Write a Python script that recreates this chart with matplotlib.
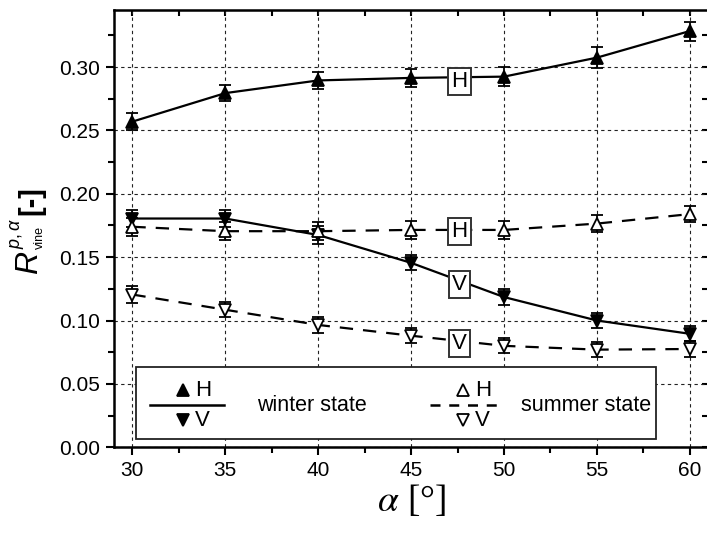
import numpy as np
import matplotlib
matplotlib.use("Agg")
import matplotlib.pyplot as plt
from matplotlib.lines import Line2D
from matplotlib.patches import Rectangle
from matplotlib.ticker import MultipleLocator, FormatStrFormatter

plt.rcParams['font.family'] = ['Liberation Sans', 'DejaVu Sans']
plt.rcParams['mathtext.fontset'] = 'custom'
plt.rcParams['mathtext.rm'] = 'Liberation Sans'
plt.rcParams['mathtext.it'] = 'Liberation Sans:italic'
plt.rcParams['mathtext.bf'] = 'Liberation Sans:bold'

# Data
alpha = [30, 35, 40, 45, 50, 55, 60]
winter_h = [0.257, 0.2795, 0.2895, 0.2915, 0.2925, 0.3075, 0.3285]
winter_h_err = [0.007, 0.0065, 0.007, 0.007, 0.0075, 0.0085, 0.0075]
winter_v = [0.1805, 0.1805, 0.1675, 0.1455, 0.1185, 0.100, 0.0895]
winter_v_err = [0.007, 0.007, 0.007, 0.006, 0.006, 0.006, 0.006]
summer_h = [0.174, 0.1705, 0.1705, 0.1715, 0.1715, 0.1765, 0.184]
summer_h_err = [0.007, 0.007, 0.007, 0.007, 0.007, 0.007, 0.006]
summer_v = [0.1205, 0.1085, 0.0965, 0.088, 0.080, 0.077, 0.0775]
summer_v_err = [0.0065, 0.006, 0.006, 0.006, 0.006, 0.006, 0.006]

# boxed curve labels: (x, y, text)
curve_labels = [(47.6, 0.2885, "H"), (47.6, 0.1700, "H"),
                (47.6, 0.1285, "V"), (47.6, 0.0818, "V")]

fig = plt.figure(figsize=(7.07, 5.33), dpi=100)
ax = fig.add_axes([0.161, 0.161, 0.841, 0.820])

dash = (0, (6, 4.5))
series = [
	(winter_h, winter_h_err, '^', 'black', '-'),
	(winter_v, winter_v_err, 'v', 'black', '-'),
	(summer_h, summer_h_err, '^', 'white', dash),
	(summer_v, summer_v_err, 'v', 'white', dash),
]
for vals, err, mk, fc, ls in series:
	ax.errorbar(alpha, vals, yerr=err, fmt=mk, color='black', mfc=fc, mec='black',
				ms=8.5, mew=1.3, ecolor='black', elinewidth=1.3, capsize=4.5, capthick=1.8,
				zorder=4)
	ax.plot(alpha, vals, color='black', linestyle=ls, lw=1.6, zorder=3)

for x, y, t in curve_labels:
	ax.text(x, y, t, fontsize=16, ha='center', va='center', zorder=6,
			bbox=dict(boxstyle='square,pad=0.14', fc='white', ec='#333333', lw=1.4))

ax.set_xlim(29, 61)
ax.set_ylim(0, 0.345)
ax.xaxis.set_major_locator(MultipleLocator(5))
ax.xaxis.set_minor_locator(MultipleLocator(2.5))
ax.yaxis.set_major_locator(MultipleLocator(0.05))
ax.yaxis.set_minor_locator(MultipleLocator(0.025))
ax.yaxis.set_major_formatter(FormatStrFormatter('%.2f'))

ax.grid(True, which='major', color='#222222', linestyle=(0, (3, 3)), linewidth=0.8, zorder=0)
ax.set_axisbelow(True)

for s in ax.spines.values():
	s.set_linewidth(1.8)
ax.tick_params(which='both', labelsize=15, width=1.5, pad=4)
ax.tick_params(which='major', length=6)
ax.tick_params(which='minor', length=4)
ax.tick_params(which='both', direction='out', top=False, right=False)
# inward ticks on top/right
axt = ax.secondary_xaxis('top')
axt.xaxis.set_major_locator(MultipleLocator(5))
axt.xaxis.set_minor_locator(MultipleLocator(2.5))
axt.tick_params(which='both', direction='in', labeltop=False, width=1.5, length=4)
axr = ax.secondary_yaxis('right')
axr.yaxis.set_major_locator(MultipleLocator(0.05))
axr.yaxis.set_minor_locator(MultipleLocator(0.025))
axr.tick_params(which='both', direction='in', labelright=False, width=1.5, length=4)

ax.set_xlabel(r'$\alpha$ [°]', fontsize=27, family=['Liberation Serif'],
			  math_fontfamily='stix', labelpad=2)

# y label pieces (rotated), placed in figure pixels
W, H = 707, 533
def ylab(px, py, s, size, **kw):
	fig.text(px / W, 1 - py / H, s, fontsize=size, rotation=90,
			 ha='center', va='center', **kw)
ylab(29, 262, 'R', 23, style='italic')
ylab(17, 233, r'$p,\alpha$', 13)
ylab(40, 238, 'vine', 9)
ylab(31, 201, '[-]', 21, weight='bold')

# legend box drawn by hand
ax.add_patch(Rectangle((0.037, 0.018), 0.875, 0.165, transform=ax.transAxes,
					   fc='white', ec='#222222', lw=1.3, zorder=7))
lg = [
	(0.061, 0.185, 0.116, '-', 'black', 0.241, 'winter state'),
	(0.532, 0.658, 0.588, (0, (4, 3.5)), 'white', 0.684, 'summer state'),
]
for x0, x1, xm, ls, fc, xt, txt in lg:
	ax.add_line(Line2D([x0, x1], [0.096, 0.096], transform=ax.transAxes, color='black',
					   lw=1.8, linestyle=ls, zorder=8))
	ax.plot([xm], [0.13], marker='^', ms=8, mfc=fc, mec='black', mew=1.3,
			transform=ax.transAxes, zorder=8)
	ax.plot([xm], [0.062], marker='v', ms=8, mfc=fc, mec='black', mew=1.3,
			transform=ax.transAxes, zorder=8)
	ax.text(xm + 0.02, 0.13, 'H', fontsize=16, va='center', transform=ax.transAxes, zorder=8)
	ax.text(xm + 0.02, 0.062, 'V', fontsize=16, va='center', transform=ax.transAxes, zorder=8)
	ax.text(xt, 0.096, txt, fontsize=15.5, va='center', transform=ax.transAxes, zorder=8)

plt.savefig("out.png", dpi=100)
